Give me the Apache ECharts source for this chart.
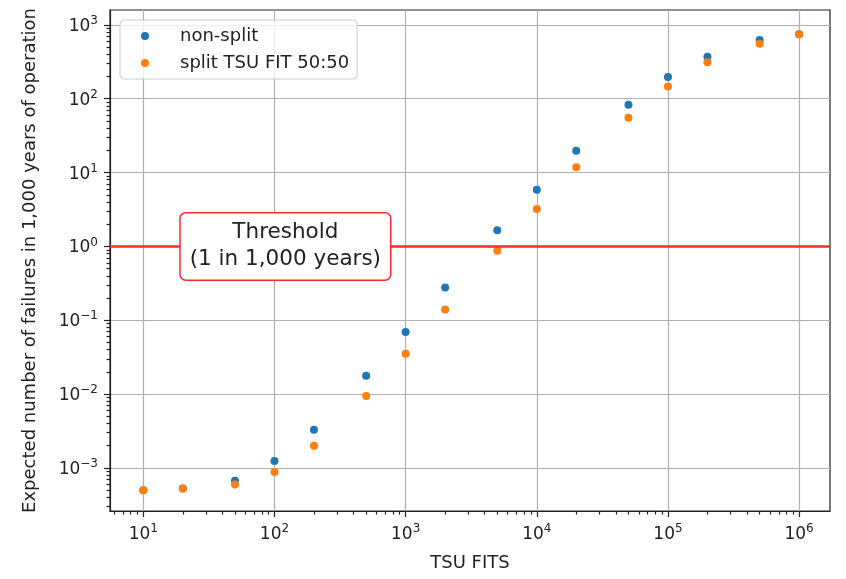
<!DOCTYPE html>
<html>
<head>
<meta charset="utf-8">
<script src="https://cdn.jsdelivr.net/npm/echarts@6/dist/echarts.min.js"></script>
<style>html,body{margin:0;padding:0;background:#fff}#chart{width:846px;height:579px}</style>
</head>
<body>
<div id="chart"></div>
<script>
// TSU FIT values on the x axis
const tsuFits = [10, 20, 50, 100, 200, 500, 1000, 2000, 5000, 1e4, 2e4, 5e4, 1e5, 2e5, 5e5, 1e6];
// expected number of failures in 1,000 years
const nonSplit = [5.0e-4, 5.25e-4, 6.7e-4, 1.24e-3, 3.3e-3, 0.0177, 0.0696, 0.278, 1.65, 5.85, 19.7, 83, 197, 371, 624, 746];
const split5050 = [5.0e-4, 5.25e-4, 5.95e-4, 8.8e-4, 1.99e-3, 9.45e-3, 0.0351, 0.140, 0.872, 3.2, 11.8, 55.3, 147, 311, 556, 746];
const seriesNames = ['non-split', 'split TSU FIT 50:50'];
const seriesColors = ['#1f77b4', '#ff7f0e'];

const threshold = 1;
const thresholdText = 'Threshold\n(1 in 1,000 years)';
const thresholdLabelX = 121;

const xMajor = [10, 100, 1e3, 1e4, 1e5, 1e6];
const yMajor = [1e-3, 1e-2, 1e-1, 1, 10, 100, 1000];
const xRange = [5.57, 1.72e6];
const yRange = [2.61e-4, 1592];

const FONT = 'DejaVu Sans';
const TEXT = '#222';

// minor ticks 2..9 in each decade, kept inside the axis range
function minorTicks(range) {
    var out = [];
    for (var k = -6; k <= 7; k++) {
        for (var j = 2; j <= 9; j++) {
            var v = j * Math.pow(10, k);
            if (v >= range[0] && v <= range[1]) out.push(v);
        }
    }
    return out;
}

function pow10Label(v) {
    var e = Math.round(Math.log10(v));
    return '{b|10}{s|' + (e < 0 ? '\u2212' + (-e) : e) + '}';
}

const labelRich = {
    b: { fontFamily: FONT, fontSize: 17, color: TEXT, lineHeight: 20, verticalAlign: 'bottom' },
    s: { fontFamily: FONT, fontSize: 12, color: TEXT, lineHeight: 12, verticalAlign: 'top' }
};
const axisLineStyle = { color: '#222', width: 1.2 };

function toPairs(ys) {
    return tsuFits.map(function (x, i) { return [x, ys[i]]; });
}

var chart = echarts.init(document.getElementById('chart'));
var option = {
    animation: false,
    grid: { left: 110, right: 16, top: 10, bottom: 68, show: true, borderColor: '#222', borderWidth: 1.2 },
    legend: {
        data: seriesNames,
        left: 120, top: 20, orient: 'vertical', icon: 'circle',
        itemWidth: 34, itemHeight: 8, itemGap: 9, padding: [7, 8, 7, 21],
        backgroundColor: 'rgba(255,255,255,0.8)', borderColor: '#ccc', borderWidth: 1, borderRadius: 4,
        formatter: function (name) { return '{t|' + name + '}'; },
        textStyle: {
            fontFamily: FONT, fontSize: 18, lineHeight: 18, color: TEXT,
            rich: { t: { fontFamily: FONT, fontSize: 18, lineHeight: 18, color: TEXT, padding: [0, 0, 0, 13] } }
        }
    },
    xAxis: [{
        type: 'log', logBase: 10, min: xRange[0], max: xRange[1],
        name: 'TSU FITS', nameLocation: 'middle', nameGap: 43,
        nameTextStyle: { fontFamily: FONT, fontSize: 18, color: TEXT },
        axisLine: { show: true, onZero: false, lineStyle: axisLineStyle },
        axisTick: { show: true, inside: false, length: 6, customValues: xMajor, lineStyle: axisLineStyle },
        axisLabel: { customValues: xMajor, formatter: pow10Label, rich: labelRich, margin: 12 },
        splitLine: { show: true, lineStyle: { color: '#b0b0b0', width: 1.2 } }
    }, {
        type: 'log', logBase: 10, min: xRange[0], max: xRange[1], position: 'bottom',
        axisLine: { show: false, onZero: false },
        axisTick: { show: true, inside: false, length: 3.5, customValues: minorTicks(xRange), lineStyle: axisLineStyle },
        axisLabel: { show: false },
        splitLine: { show: false }
    }],
    yAxis: [{
        type: 'log', logBase: 10, min: yRange[0], max: yRange[1],
        name: 'Expected number of failures in 1,000 years of operation', nameLocation: 'middle', nameGap: 71,
        nameTextStyle: { fontFamily: FONT, fontSize: 18, color: TEXT },
        axisLine: { show: true, onZero: false, lineStyle: axisLineStyle },
        axisTick: { show: true, inside: false, length: 6, customValues: yMajor, lineStyle: axisLineStyle },
        axisLabel: { customValues: yMajor, formatter: pow10Label, rich: labelRich, margin: 12 },
        splitLine: { show: true, lineStyle: { color: '#b0b0b0', width: 1.2 } }
    }, {
        type: 'log', logBase: 10, min: yRange[0], max: yRange[1], position: 'left',
        axisLine: { show: false, onZero: false },
        axisTick: { show: true, inside: false, length: 3.5, customValues: minorTicks(yRange), lineStyle: axisLineStyle },
        axisLabel: { show: false },
        splitLine: { show: false }
    }],
    series: [{
        name: seriesNames[0], type: 'scatter', symbolSize: 8, data: toPairs(nonSplit),
        itemStyle: { color: seriesColors[0], opacity: 1 }
    }, {
        name: seriesNames[1], type: 'scatter', symbolSize: 8, data: toPairs(split5050),
        itemStyle: { color: seriesColors[1], opacity: 1 }
    }, {
        name: 'threshold', type: 'scatter', symbolSize: 0, z: 10, silent: true,
        data: [[thresholdLabelX, threshold]],
        itemStyle: { opacity: 1 },
        label: {
            show: true, position: 'inside', formatter: thresholdText, align: 'center', opacity: 1,
            fontFamily: FONT, fontSize: 21.5, lineHeight: 27, color: TEXT,
            backgroundColor: '#fff', borderColor: '#ff2a2a', borderWidth: 1.5, borderRadius: 5,
            padding: [6, 9, 6, 9]
        },
        markLine: {
            silent: true, symbol: 'none', label: { show: false },
            lineStyle: { color: '#ff2a2a', width: 2.5, type: 'solid' },
            data: [{ yAxis: threshold }]
        }
    }]
};
chart.setOption(option);
</script>
</body>
</html>
